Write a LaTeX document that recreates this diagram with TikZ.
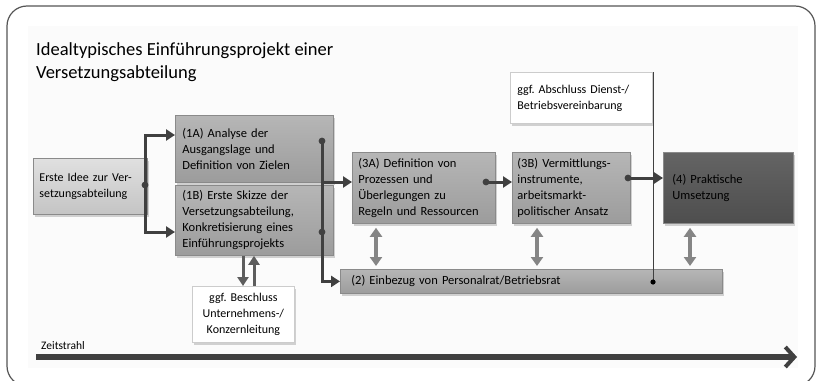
\documentclass[tikz,border=0pt]{standalone}
\usepackage{fontspec}
\setmainfont{Carlito}
\usetikzlibrary{arrows.meta,shadows,calc}
\definecolor{midtop}{HTML}{B6B6B6}
\definecolor{midbot}{HTML}{9C9C9C}
\definecolor{lighttop}{HTML}{E0E0E0}
\definecolor{lightbot}{HTML}{C4C4C4}
\definecolor{darktop}{HTML}{646464}
\definecolor{darkbot}{HTML}{4E4E4E}
\definecolor{edgec}{HTML}{8A8A8A}
\definecolor{connc}{HTML}{404040}
\definecolor{dblc}{HTML}{858585}
\definecolor{framec}{HTML}{555555}
\frenchspacing
\begin{document}
\begin{tikzpicture}[x=1pt,y=-1pt,
  base/.style={anchor=north west, draw=edgec, line width=0.8pt, inner xsep=7pt, inner ysep=0pt,
    align=left, font=\fontsize{12.5}{16}\selectfont,
    drop shadow={opacity=0.35, shadow xshift=2pt, shadow yshift=-2.5pt}},
  midbox/.style={base, top color=midtop, bottom color=midbot},
  lightbox/.style={base, top color=lighttop, bottom color=lightbot},
  darkbox/.style={base, top color=darktop, bottom color=darkbot},
  whitebox/.style={base, fill=white, draw=gray!40},
  arr/.style={draw=connc, line width=3pt, -{Triangle[length=9pt,width=11pt]}},
  plain/.style={draw=connc, line width=3pt},
  dbl/.style={draw=dblc, line width=3.2pt, {Triangle[length=9pt,width=12pt]}-{Triangle[length=9pt,width=12pt]}},
  dot/.style={fill=connc},
]
\useasboundingbox (0,0) rectangle (818,380);
% background
\fill[gray!3] (28,26) rectangle (798,368);
\draw[framec, line width=1.2pt, rounded corners=20pt] (7,6) rectangle (815,386);

% title
\node[anchor=base west, inner sep=0pt, font=\fontsize{18.5}{22}\selectfont] (t1) at (36,55) {Idealtypisches Einführungsprojekt einer};
\node[anchor=base west, inner sep=0pt, font=\fontsize{18.5}{22}\selectfont] (t2) at (36,78) {Versetzungsabteilung};

% boxes
\node[lightbox, inner xsep=6pt, text width=102pt, minimum height=56pt, font=\fontsize{12}{16}\selectfont] (idee) at (33,158)
  {Erste~Idee~zur~Ver-\\setzungsabteilung};
\node[midbox, text width=144pt, minimum height=67pt] (a1) at (175,115)
  {(1A) Analyse der\\Ausgangslage und\\Definition von Zielen};
\node[midbox, text width=144pt, minimum height=70pt] (b1) at (175,185)
  {(1B) Erste Skizze der\\Versetzungsabteilung,\\Konkretisierung eines\\Einführungsprojekts};
\node[midbox, inner xsep=6pt, text width=131pt, minimum height=71pt] (a3) at (352,152)
  {(3A) Definition von\\Prozessen und\\Überlegungen zu\\Regeln~und~Ressourcen};
\node[midbox, inner xsep=5pt, text width=108pt, minimum height=71pt] (b3) at (512,152)
  {(3B) Vermittlungs-\\instrumente,\\arbeitsmarkt-\\politischer Ansatz};
\node[darkbox, inner xsep=9pt, text width=112pt, minimum height=71pt] (p4) at (663,152)
  {(4) Praktische\\Umsetzung};
\node[whitebox, text width=128pt, minimum height=51pt, font=\fontsize{12}{16}\selectfont] (abs) at (510,72)
  {ggf. Abschluss Dienst-/\\Betriebsvereinbarung};
\node[midbox, inner xsep=11pt, text width=360pt, minimum height=24pt] (p2) at (340,269)
  {(2) Einbezug von Personalrat/Betriebsrat};
\node[whitebox, align=center, inner xsep=4pt, text width=94pt, minimum height=56pt, font=\fontsize{12}{16}\selectfont] (besch) at (192,286)
  {ggf. Beschluss\\Unternehmens-/\\Konzernleitung};

% connectors from Erste Idee
\coordinate (jI) at (145,185);
\draw[arr] (jI) |- (a1.west |- 0,135);
\draw[arr] (jI) |- (b1.west |- 0,232);
\fill[dot] (jI) circle (3.4);

% 1A/1B to 3A and (2)
\coordinate (dA) at (322,141);
\coordinate (dB) at (322,232);
\draw[plain] (dA) -- (dB);
\draw[arr] (dA |- 0,182) -- (a3.west |- 0,182);
\draw[arr] (dB) |- (p2.west);
\fill[dot] (dA) circle (3.4);
\fill[dot] (dB) circle (3.4);

% 3A -> 3B
\coordinate (d3A) at (486,182);
\draw[arr] (d3A) -- (b3.west |- d3A);
\fill[dot] (d3A) circle (3.4);

% 3B -> 4
\coordinate (d3B) at (628,178);
\draw[arr] (d3B) -- (p4.west |- d3B);
\fill[dot] (d3B) circle (3.4);

% thin line from Abschluss to (2)
\coordinate (dP) at (653,282);
\draw[connc, line width=1pt] (abs.north east -| dP) -- (dP);
\fill[black] (dP) circle (2.6);

% double arrows
\draw[dbl, shorten <=4pt, shorten >=3pt] (a3.south -| 376,0) -- (p2.north -| 376,0);
\draw[dbl, shorten <=4pt, shorten >=3pt] (b3.south -| 537,0) -- (p2.north -| 537,0);
\draw[dbl, shorten <=4pt, shorten >=3pt] (p4.south -| 690,0) -- (p2.north -| 690,0);

% 1B <-> Beschluss
\draw[arr, draw=connc!85] (b1.south -| 243,0) -- (besch.north -| 243,0);
\draw[arr, draw=connc!85] (besch.north -| 254,0) -- (b1.south -| 254,0);

% timeline
\coordinate (tA) at (36,357);
\coordinate (tB) at (797,357);
\draw[connc, line width=5.5pt, -{Straight Barb[length=9pt,width=20pt,line width=4pt]}] (tA) -- (tB);
\node[anchor=base west, inner sep=0pt, font=\fontsize{11.5}{13}\selectfont] (zs) at (41,349) {Zeitstrahl};
\end{tikzpicture}
\end{document}
